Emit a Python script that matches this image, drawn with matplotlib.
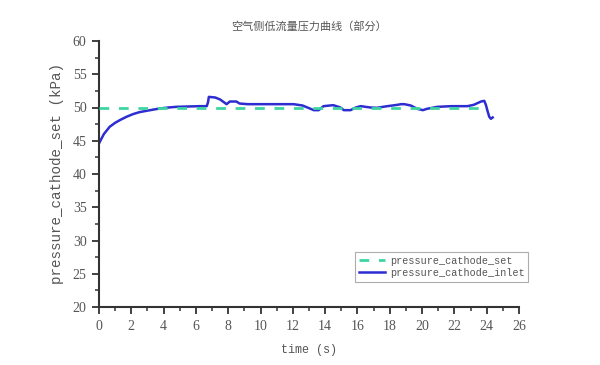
import numpy as np
import matplotlib.pyplot as plt
from matplotlib.ticker import MultipleLocator

# data
t_set = [0, 24.0]
p_set = [50, 50]

t_inlet = [0.0, 0.3, 0.66, 1.0, 1.29, 1.7, 2.1, 2.5, 2.94, 3.4, 3.77, 4.3, 4.8, 5.5,
           6.2, 6.67, 6.75, 6.8, 7.2, 7.5, 7.7, 7.9, 8.1, 8.5, 8.7, 9.2, 9.98, 11.0,
           12.05, 12.6, 12.9, 13.3, 13.6, 13.9, 14.5, 14.95, 15.15, 15.57, 15.9, 16.2,
           16.8, 17.2, 17.85, 18.47, 18.7, 18.9, 19.3, 19.7, 20.05, 20.3, 20.95, 21.8,
           22.8, 23.2, 23.65, 23.85, 23.95, 24.06, 24.16, 24.26, 24.37]
p_inlet = [44.6, 46.0, 47.1, 47.7, 48.1, 48.6, 49.0, 49.3, 49.5, 49.7, 49.85, 50.0,
           50.1, 50.15, 50.2, 50.2, 50.8, 51.6, 51.5, 51.2, 50.85, 50.5, 50.9, 50.9,
           50.6, 50.5, 50.5, 50.5, 50.5, 50.3, 50.0, 49.6, 49.6, 50.2, 50.35, 50.0,
           49.6, 49.6, 50.0, 50.2, 50.0, 49.95, 50.2, 50.4, 50.5, 50.5, 50.3, 49.8,
           49.6, 49.8, 50.1, 50.2, 50.2, 50.4, 50.9, 51.0, 50.4, 49.4, 48.6, 48.3, 48.5]

x_ticks = list(range(0, 27, 2))
y_ticks = list(range(20, 61, 5))

gray = '#555555'
serif = ['Liberation Serif', 'Noto Sans CJK SC']
mono = ['Liberation Mono', 'DejaVu Sans Mono']

fig = plt.figure(figsize=(6, 3.65), dpi=100)
ax = fig.add_axes([99 / 600, 1 - 307 / 365, 420 / 600, 266 / 365])

ax.plot(t_set, p_set, color='#3dd6a0', linestyle=(0, (3.5, 3.5)), linewidth=2,
        label='pressure_cathode_set', zorder=3)
ax.plot(t_inlet, p_inlet, color='#2d2dd2', linewidth=1.8,
        label='pressure_cathode_inlet', zorder=2)

ax.set_xlim(0, 26)
ax.set_ylim(20, 60)
ax.set_xticks(x_ticks)
ax.set_yticks(y_ticks)
ax.xaxis.set_minor_locator(MultipleLocator(1))
ax.yaxis.set_minor_locator(MultipleLocator(2.5))

for s in ['top', 'right']:
    ax.spines[s].set_visible(False)
for s in ['left', 'bottom']:
    ax.spines[s].set_color('#333333')
    ax.spines[s].set_linewidth(1.5)

ax.tick_params(which='major', direction='out', length=5, width=1.3, color='#333333',
               labelsize=10, labelcolor=gray, pad=4)
ax.tick_params(which='minor', direction='out', length=3, width=1.1, color='#333333')
for lab in ax.get_xticklabels() + ax.get_yticklabels():
    lab.set_family(serif)

ax.set_xlabel('time (s)', fontsize=8.5, color=gray, family=mono, labelpad=8)
ax.set_ylabel('pressure_cathode_set (kPa)', fontsize=10.3, color=gray, family=mono,
              labelpad=6)
ax.set_title('空气侧低流量压力曲线（部分）', fontsize=8, color=gray,
             family=['Noto Sans CJK SC', 'DejaVu Sans'], pad=8)

leg = ax.legend(loc='upper left', bbox_to_anchor=(0.61, 0.205), borderaxespad=0,
                prop={'family': mono, 'size': 7.3}, frameon=True, fancybox=False,
                handlelength=2.6, borderpad=0.35, labelspacing=0.2, handletextpad=0.5)
leg.get_frame().set_edgecolor('#999999')
leg.get_frame().set_linewidth(0.8)
for txt in leg.get_texts():
    txt.set_color(gray)

fig.savefig('out.png', dpi=100)
